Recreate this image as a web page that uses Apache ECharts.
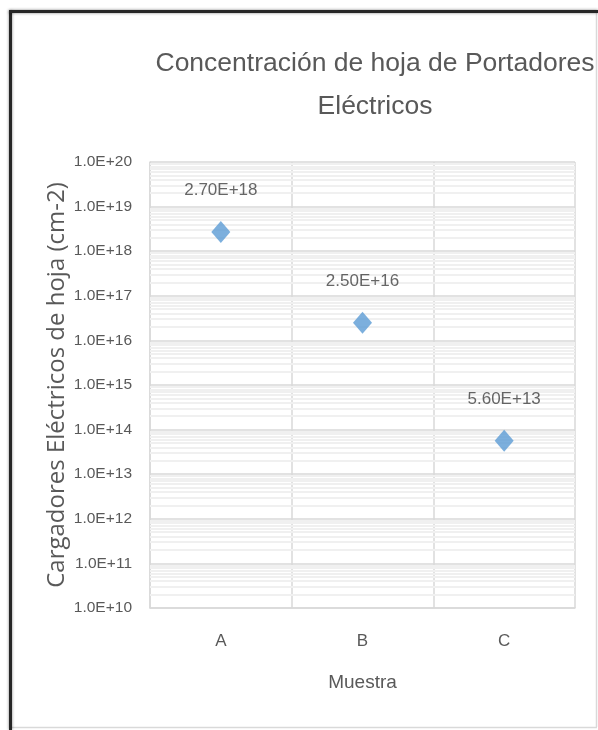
<!DOCTYPE html>
<html>
<head>
<meta charset="utf-8">
<script src="https://cdn.jsdelivr.net/npm/echarts@6/dist/echarts.min.js"></script>
<style>html,body{margin:0;padding:0;background:#fff}#c{width:598px;height:730px}</style>
</head>
<body>
<div id="c"></div>
<script>
const categories = ['A', 'B', 'C'];
const values = [2.7e18, 2.5e16, 5.6e13];
const valueLabels = ['2.70E+18', '2.50E+16', '5.60E+13'];
const yMin = 1e10;
const yMax = 1e20;
const titleText = 'Concentración de hoja de Portadores\nEléctricos';
const yName = 'Cargadores Eléctricos de hoja (cm-2)';
const xName = 'Muestra';

const FONT = "'Liberation Sans Narrow', 'Liberation Sans', sans-serif";

// minor log gridlines (k * 10^n)
const minorLines = [];
for (let e = 10; e < 20; e++) {
  for (let k = 2; k <= 9; k++) minorLines.push({ yAxis: k * Math.pow(10, e) });
}

const chart = echarts.init(document.getElementById('c'));
chart.setOption({
  backgroundColor: '#fff',
  animation: false,
  title: {
    text: titleText,
    left: 370, top: 37,
    textAlign: 'center',
    textStyle: { fontFamily: FONT, fontSize: 26.5, fontWeight: 'normal', color: '#595959', lineHeight: 43 }
  },
  grid: { left: 150, right: 23, top: 162, bottom: 122 },
  xAxis: {
    type: 'category',
    data: categories,
    boundaryGap: true,
    name: xName,
    nameLocation: 'middle',
    nameGap: 65,
    nameMoveOverlap: false,
    nameTextStyle: { fontFamily: FONT, fontSize: 19, color: '#595959' },
    axisLine: { show: true, lineStyle: { color: '#D9D9D9', width: 1.5 } },
    axisTick: { show: false },
    axisLabel: { fontFamily: FONT, fontSize: 17, color: '#595959', margin: 25 },
    splitLine: { show: true, lineStyle: { color: '#D9D9D9', width: 1.5 } }
  },
  yAxis: {
    type: 'log',
    logBase: 10,
    min: yMin, max: yMax,
    interval: 1,
    splitNumber: 10,
    name: yName,
    nameLocation: 'middle',
    nameGap: 81,
    nameMoveOverlap: false,
    nameTextStyle: { fontFamily: "'Open Sans', sans-serif", fontSize: 24, color: '#595959' },
    axisLine: { show: true, lineStyle: { color: '#D9D9D9', width: 1.5 } },
    axisTick: { show: false },
    axisLabel: {
      fontFamily: FONT, fontSize: 15.5, color: '#595959', margin: 18,
      formatter: v => Number(v).toExponential(1).replace('e', 'E')
    },
    splitLine: { show: true, lineStyle: { color: '#D9D9D9', width: 1.5 } }
  },
  series: [
    {
      type: 'scatter',
      data: values,
      symbol: 'diamond',
      symbolSize: [19, 22],
      itemStyle: { color: '#5B9BD5' },
      label: {
        show: true,
        position: 'top',
        distance: 22,
        formatter: p => valueLabels[p.dataIndex],
        fontFamily: FONT, fontSize: 17, color: '#404040'
      },
      z: 5,
      markLine: {
        silent: true,
        symbol: 'none',
        label: { show: false },
        lineStyle: { color: '#F0F0F0', width: 2, type: 'solid' },
        data: minorLines,
        z: 1
      }
    }
  ],
  graphic: [
    { type: 'line', shape: { x1: 596.5, y1: 12, x2: 596.5, y2: 727 }, style: { stroke: '#D9D9D9', lineWidth: 1.5 } },
    { type: 'line', shape: { x1: 11, y1: 727.5, x2: 597, y2: 727.5 }, style: { stroke: '#D9D9D9', lineWidth: 1.5 } },
    { type: 'line', shape: { x1: 10.5, y1: 11, x2: 10.5, y2: 730 }, style: { stroke: '#262626', lineWidth: 3, shadowBlur: 3, shadowColor: 'rgba(0,0,0,0.5)' } },
    { type: 'line', shape: { x1: 9, y1: 11.5, x2: 598, y2: 11.5 }, style: { stroke: '#262626', lineWidth: 3, shadowBlur: 3, shadowColor: 'rgba(0,0,0,0.5)' } }
  ]
});
</script>
</body>
</html>
